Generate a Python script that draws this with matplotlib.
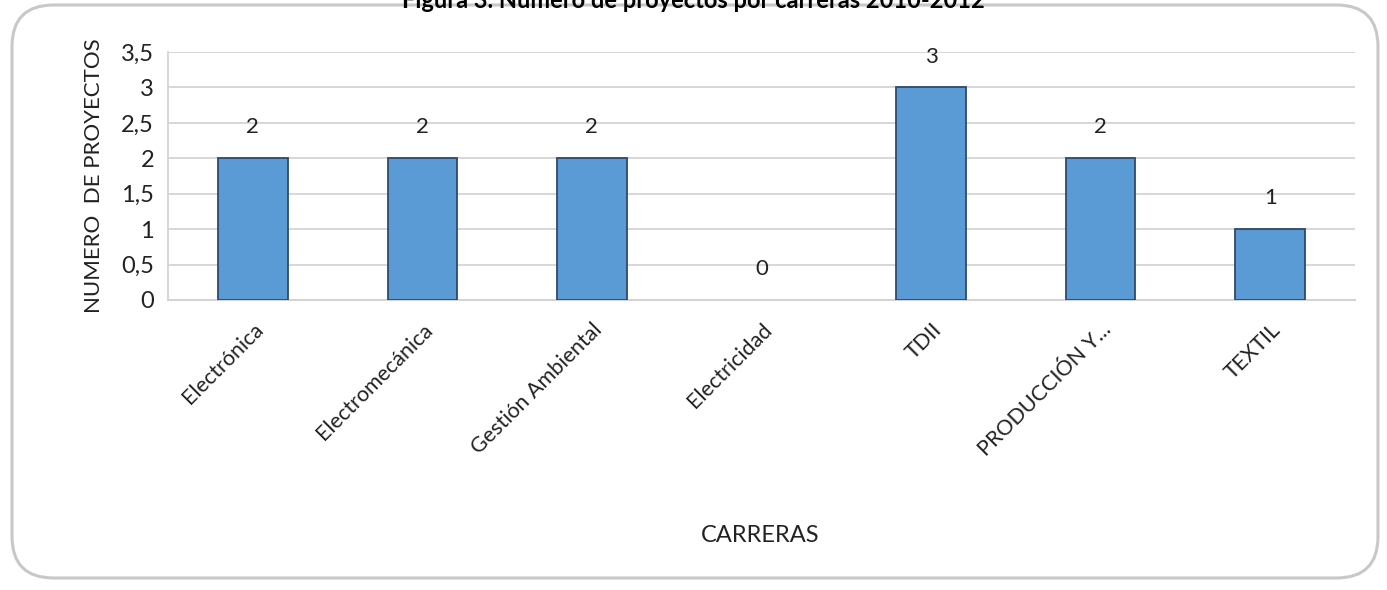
import matplotlib
matplotlib.use("Agg")
import matplotlib.pyplot as plt
from matplotlib.patches import FancyBboxPatch
import numpy as np

carreras = ["Electrónica", "Electromecánica", "Gestión Ambiental", "Electricidad",
            "TDII", "PRODUCCIÓN Y...", "TEXTIL"]
proyectos = [2, 2, 2, 0, 3, 2, 1]
y_ticks = [0, 0.5, 1, 1.5, 2, 2.5, 3, 3.5]
y_tick_labels = ["0", "0,5", "1", "1,5", "2", "2,5", "3", "3,5"]

plt.rcParams["font.family"] = ["Lato", "DejaVu Sans"]

W, H = 1387, 590
fig = plt.figure(figsize=(W / 100, H / 100), dpi=100)
fig.patch.set_facecolor("white")

# rounded chart border (drawn under the axes)
frame = FancyBboxPatch((12 / W, 12 / H), 1366 / W, 573 / H,
                       boxstyle="round,pad=0,rounding_size=0.03",
                       transform=fig.transFigure, facecolor="none",
                       edgecolor="#c8c8c8", linewidth=2.2, mutation_aspect=W / H,
                       zorder=-1)
fig.patches.append(frame)

fig.text(0.5, 1 - 8 / H, "Figura 3. Número de proyectos por carreras 2010-2012",
         ha="center", va="baseline", fontsize=17, fontweight="bold", color="black")

left, right, top, bottom = 168, 1355, 52, 300
ax = fig.add_axes([left / W, 1 - bottom / H, (right - left) / W, (bottom - top) / H])
ax.patch.set_alpha(0)

x = np.arange(len(carreras))
bars = ax.bar(x, proyectos, width=0.41, color="#5b9bd5", edgecolor="#2e4a6b",
              linewidth=1.3, zorder=3)
# empty bars have no visible outline
for bar, v in zip(bars, proyectos):
    if v == 0:
        bar.set_linewidth(0)
ax.bar_label(bars, labels=[str(v) for v in proyectos], padding=15, fontsize=16,
             color="#222222")

ax.set_xlim(-0.5, len(carreras) - 0.5)
ax.set_ylim(0, 3.5)
ax.set_yticks(y_ticks)
ax.set_yticklabels(y_tick_labels, fontsize=17, color="#222222")
ax.set_xticks(x)
ax.set_xticklabels(carreras, rotation=45, ha="right", rotation_mode="anchor",
                   fontsize=15.5, color="#222222")
ax.tick_params(axis="y", length=0, pad=10)
ax.tick_params(axis="x", length=0, pad=14)
ax.grid(True, axis="y", color="#d4d4d4", linewidth=1.3, zorder=0)
ax.set_axisbelow(True)
for side in ["top", "right"]:
    ax.spines[side].set_visible(False)
ax.spines["left"].set_color("#d4d4d4")
ax.spines["bottom"].set_color("#d4d4d4")
ax.spines["left"].set_linewidth(1.3)
ax.spines["bottom"].set_linewidth(1.5)

ax.set_ylabel("NUMERO  DE PROYECTOS", fontsize=16, color="#222222", labelpad=12)
fig.text(760 / W, 1 - 535 / H, "CARRERAS", ha="center", va="center",
         fontsize=17, color="#222222")

fig.savefig("out.png", dpi=100)
